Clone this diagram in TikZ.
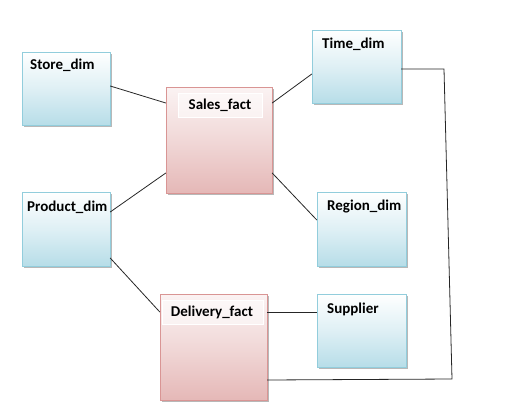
\documentclass[tikz,border=0pt]{standalone}
\usepackage{fontspec}
\setmainfont{Carlito}
\definecolor{dimborder}{HTML}{92CDDC}
\definecolor{dimbot}{HTML}{B7DDE8}
\definecolor{factborder}{HTML}{D99594}
\definecolor{factbot}{HTML}{E5B8B7}
\definecolor{facttop}{HTML}{FBF3F3}
\tikzset{
  dimbox/.style={draw=dimborder, line width=0.9pt, top color=white, bottom color=dimbot, middle color=dimbot!45, inner sep=0pt},
  factbox/.style={draw=factborder, line width=0.9pt, top color=facttop, bottom color=factbot, middle color=factbot!55, inner sep=0pt},
  shadowbox/.style={fill=black!28, draw=none},
  band/.style={draw=white, fill=white, fill opacity=0.55, line width=0.8pt},
  lbl/.style={font=\bfseries\fontsize{15}{17}\selectfont, inner sep=0pt, text=black},
  conn/.style={draw=black!85, line width=0.8pt},
}
\begin{document}
\begin{tikzpicture}[x=1pt,y=-1pt]
\useasboundingbox (0,0) rectangle (508,412);
% shadows
\foreach \a/\b/\c/\d in {22/52/110/125, 166/87/272/193, 312/30/401/103, 22/192/110/266, 317/192/406/266, 160/294/267/400, 317/294/406/367}
  \fill[shadowbox] (\a+2,\b+2) rectangle (\c+2,\d+2);
% boxes
\path[dimbox] (22,52) rectangle (110,125);
\path[factbox] (166,87) rectangle (272,193);
\path[dimbox] (312,30) rectangle (401,103);
\path[dimbox] (22,192) rectangle (110,266);
\path[dimbox] (317,192) rectangle (406,266);
\path[factbox] (160,294) rectangle (267,400);
\path[dimbox] (317,294) rectangle (406,367);
% named box nodes (invisible, for connectors)
\node[minimum width=88pt, minimum height=73pt, inner sep=0pt] (store) at (66,88.5) {};
\node[minimum width=106pt, minimum height=106pt, inner sep=0pt] (sales) at (219,140) {};
\node[minimum width=89pt, minimum height=73pt, inner sep=0pt] (time) at (356.5,66.5) {};
\node[minimum width=88pt, minimum height=74pt, inner sep=0pt] (product) at (66,229) {};
\node[minimum width=89pt, minimum height=74pt, inner sep=0pt] (region) at (361.5,229) {};
\node[minimum width=107pt, minimum height=106pt, inner sep=0pt] (delivery) at (213.5,347) {};
\node[minimum width=89pt, minimum height=73pt, inner sep=0pt] (supplier) at (361.5,330.5) {};
% label bands
\path[band] (178,93) rectangle (262,117);
\path[band] (162,300) rectangle (263,324);
% labels
\node[lbl, anchor=west] (tstore) at (30,65) {Store\_dim};
\node[lbl] (tsales) at (220,105) {Sales\_fact};
\node[lbl, anchor=west] (ttime) at (322,44) {Time\_dim};
\node[lbl, anchor=west] (tproduct) at (27,207) {Product\_dim};
\node[lbl, anchor=west] (tregion) at (327,207) {Region\_dim};
\node[lbl] (tdelivery) at (212,312) {Delivery\_fact};
\node[lbl, anchor=west] (tsupplier) at (327,309) {Supplier};
% connectors
\draw[conn] (store.east |- 0,86) -- (sales.west |- 0,103);
\draw[conn] (sales.east |- 0,103) -- (time.west |- 0,74);
\draw[conn] (sales.west |- 0,173) -- (product.east |- 0,212);
\draw[conn] (sales.east |- 0,173) -- (region.west |- 0,220);
\draw[conn] (product.east |- 0,258) -- (delivery.west |- 0,312);
\draw[conn] (delivery.east |- 0,312) -- (supplier.west |- 0,312);
\coordinate (c1) at (444,69);
\coordinate (c2) at (452,379);
\draw[conn] (time.east |- 0,69) -- (c1) -- (c2) -- (delivery.east |- 0,380);
\end{tikzpicture}
\end{document}
